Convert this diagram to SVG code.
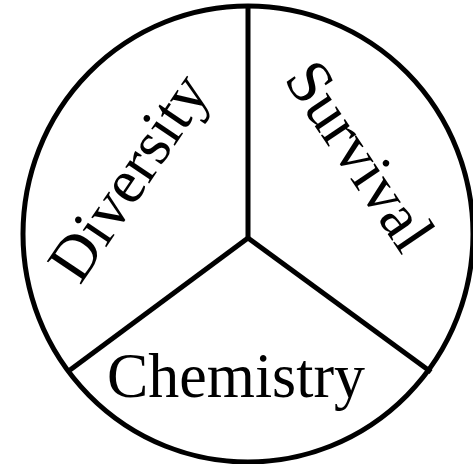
<svg xmlns="http://www.w3.org/2000/svg" width="473" height="464" viewBox="0 0 473 464">
<style>
.ln{fill:none;stroke:#000;stroke-width:5;stroke-linecap:butt}
.lbl{font-family:"Liberation Serif","Times New Roman",serif;font-size:63px;fill:#000}
</style>
<rect width="473" height="464" fill="#fff"/>
<g id="connectors">
<line class="ln" x1="248" y1="238" x2="248" y2="6"/>
<line class="ln" x1="248" y1="238" x2="70" y2="370"/>
<line class="ln" x1="248" y1="238" x2="431" y2="372"/>
</g>
<g id="circle">
<ellipse class="ln" cx="248" cy="234" rx="225" ry="228"/>
</g>
<g id="diversity">
<text class="lbl" transform="translate(80,286) rotate(-56)">Diversity</text>
</g>
<g id="survival">
<text class="lbl" transform="translate(283,79) rotate(56)">Survival</text>
</g>
<g id="chemistry">
<text class="lbl" x="107" y="397" textLength="258" lengthAdjust="spacingAndGlyphs">Chemistry</text>
</g>
</svg>
